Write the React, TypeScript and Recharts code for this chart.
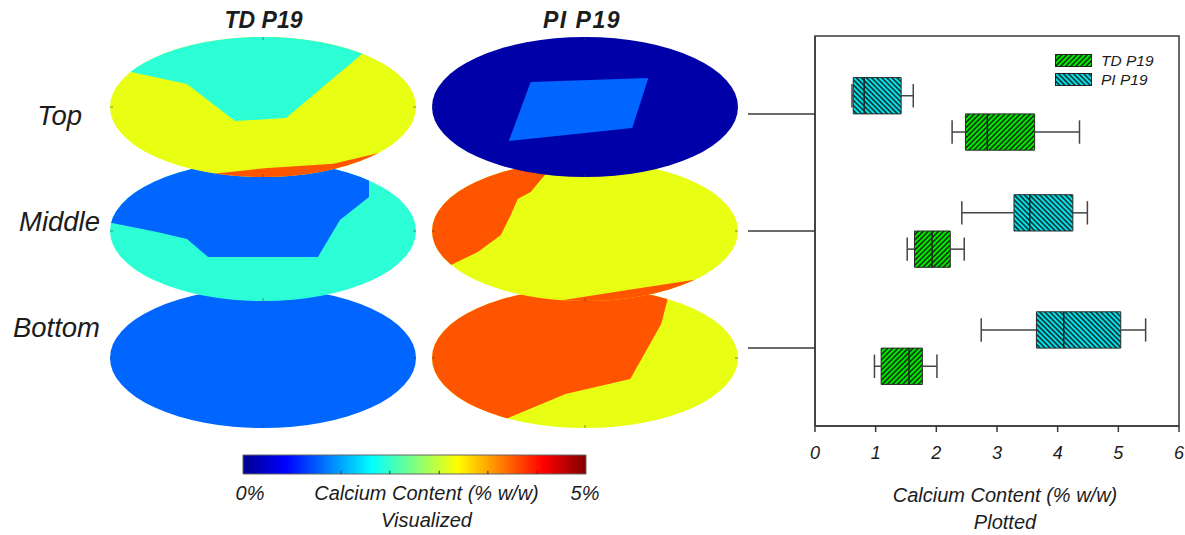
import React from "react";
import {
  ComposedChart,
  Legend,
  ReferenceArea,
  ReferenceLine,
  Scatter,
  XAxis,
  YAxis,
} from "recharts";

const FONT = '"Liberation Sans", Arial, Helvetica, sans-serif';
const INK = "#1c1c1c";
const FRAME = "#3a3a3a";

// colours of the calcium map (jet colormap levels)
const NAVY = "#0000A8";
const BLUE = "#0066FF";
const AQUA = "#2CFFD6";
const YELLOW = "#E8FF14";
const ORANGE = "#FF5500";

const zones = ["Top", "Middle", "Bottom"];
const groups = ["TD P19", "PI P19"];

// [min, Q1, median, Q3, max] calcium content, % w/w
const tdStats = [
  [2.26, 2.48, 2.84, 3.62, 4.36],
  [1.52, 1.64, 1.93, 2.23, 2.46],
  [0.98, 1.09, 1.55, 1.77, 2.01],
];
const piStats = [
  [0.61, 0.63, 0.81, 1.42, 1.62],
  [2.42, 3.28, 3.54, 4.25, 4.49],
  [2.74, 3.65, 4.1, 5.04, 5.45],
];

const axisTicks = [0, 1, 2, 3, 4, 5, 6];
const colorbarTicks = [0.71, 1.43, 2.14, 2.86, 3.57, 4.29];
const colorbarEnds = [0, 5];

// map regions, in ellipse-normalised coordinates (u right, v down)
type Pt = [number, number];
const tdTopAqua: Pt[] = [
  [-1.2, -0.5], [-0.863, -0.5], [-0.497, -0.329], [-0.183, 0.2],
  [0.15, 0.157], [0.647, -0.757], [0.9, -1.25], [-1.2, -1.25],
];
const tdTopOrange: Pt[] = [
  [-0.34, 1.3], [-0.31, 0.95], [0.03, 0.87], [0.46, 0.81],
  [0.77, 0.65], [1.3, 0.5], [1.3, 1.3],
];
const tdMiddleBlue: Pt[] = [
  [-1.2, -0.114], [-0.987, -0.114], [-0.693, 0.014], [-0.497, 0.114],
  [-0.359, 0.371], [0.359, 0.371], [0.503, -0.157], [0.693, -0.486],
  [0.693, -1.3], [-1.2, -1.3],
];
const piTopBlue: Pt[] = [
  [-0.355, -0.357], [0.414, -0.414], [0.309, 0.3], [-0.498, 0.486],
];
const piMiddleOrange: Pt[] = [
  [-0.2, -1.3], [-0.225, -0.9], [-0.355, -0.557], [-0.44, -0.457],
  [-0.485, -0.229], [-0.55, 0.057], [-0.7, 0.3], [-0.876, 0.486],
  [-1.3, 0.6], [-1.3, -1.3],
];
const piMiddleOrangeLow: Pt[] = [
  [-0.16, 1.3], [-0.14, 0.985], [0.277, 0.843], [0.707, 0.7],
  [1.3, 0.5], [1.3, 1.3],
];
const piBottomOrange: Pt[] = [
  [0.56, -1.3], [0.537, -0.814], [0.498, -0.486], [0.296, 0.3],
  [-0.127, 0.514], [-0.505, 0.86], [-0.56, 1.3], [-1.3, 1.3], [-1.3, -1.3],
];

type Region = { fill: string; pts: Pt[] };
type Panel = { id: string; col: number; row: number; base: string; regions: Region[] };

const panels: Panel[] = [
  { id: "tdTop", col: 0, row: 0, base: YELLOW, regions: [{ fill: AQUA, pts: tdTopAqua }, { fill: ORANGE, pts: tdTopOrange }] },
  { id: "tdMid", col: 0, row: 1, base: AQUA, regions: [{ fill: BLUE, pts: tdMiddleBlue }] },
  { id: "tdBot", col: 0, row: 2, base: BLUE, regions: [] },
  { id: "piTop", col: 1, row: 0, base: NAVY, regions: [{ fill: BLUE, pts: piTopBlue }] },
  { id: "piMid", col: 1, row: 1, base: YELLOW, regions: [{ fill: ORANGE, pts: piMiddleOrange }, { fill: ORANGE, pts: piMiddleOrangeLow }] },
  { id: "piBot", col: 1, row: 2, base: YELLOW, regions: [{ fill: ORANGE, pts: piBottomOrange }] },
];

// layout of the map panels
const COL_X = [263, 584.5];
const ROW_Y = [107, 231, 358];
const PANEL_W = 310;
const PANEL_H = 144;

const EllipseShape = (props: any) => {
  const { x, y, width, height, panel } = props;
  const cx = x + width / 2;
  const cy = y + height / 2;
  const rx = width / 2;
  const ry = height / 2;
  const sx = (u: number) => x + ((u + 1) / 2) * width;
  const sy = (v: number) => y + ((v + 1) / 2) * height;
  const clipId = `clip-${panel.id}`;
  return (
    <g>
      <defs>
        <clipPath id={clipId}>
          <ellipse cx={cx} cy={cy} rx={rx} ry={ry} />
        </clipPath>
      </defs>
      <ellipse cx={cx} cy={cy} rx={rx} ry={ry} fill={panel.base} />
      <g clipPath={`url(#${clipId})`}>
        {panel.regions.map((r: Region, i: number) => (
          <polygon
            key={i}
            points={r.pts.map(([u, v]) => `${sx(u)},${sy(v)}`).join(" ")}
            fill={r.fill}
          />
        ))}
        {/* small polar axis ticks */}
        <g stroke="#444" strokeOpacity={0.6} strokeWidth={1}>
          <line x1={x} y1={cy} x2={x + 3} y2={cy} />
          <line x1={x + width - 3} y1={cy} x2={x + width} y2={cy} />
          <line x1={cx} y1={y} x2={cx} y2={y + 3} />
          <line x1={cx} y1={y + height - 3} x2={cx} y2={y + height} />
        </g>
      </g>
    </g>
  );
};

const EllipseMap = ({ panel }: { panel: Panel }) => (
  <div
    style={{
      position: "absolute",
      left: COL_X[panel.col] - PANEL_W / 2,
      top: ROW_Y[panel.row] - PANEL_H / 2,
    }}
  >
    <ComposedChart width={PANEL_W} height={PANEL_H} margin={{ top: 2, right: 2, bottom: 2, left: 2 }}>
      <XAxis type="number" dataKey="u" domain={[-1, 1]} hide />
      <YAxis type="number" dataKey="v" domain={[-1, 1]} reversed hide />
      <Scatter data={[{ u: 0, v: 0 }]} shape={() => <g />} isAnimationActive={false} />
      <ReferenceArea
        x1={-1}
        x2={1}
        y1={-1}
        y2={1}
        ifOverflow="visible"
        shape={(p: any) => <EllipseShape {...p} panel={panel} />}
      />
    </ComposedChart>
  </div>
);

// box layout on the zone axis (Top = 1, Middle = 2, Bottom = 3)
const BOX_H = 0.31;
const CAP_H = 0.1;
const boxRows = zones.flatMap((z, i) => [
  { key: `pi-${z}`, y0: i + 1 - BOX_H, y1: i + 1, s: piStats[i], fill: "url(#hatchPI)" },
  { key: `td-${z}`, y0: i + 1, y1: i + 1 + BOX_H, s: tdStats[i], fill: "url(#hatchTD)" },
]);

const PlotCaption = (props: any) => {
  const { viewBox } = props;
  const cx = viewBox.x + viewBox.width / 2 + 8;
  return (
    <text textAnchor="middle" fontFamily={FONT} fontStyle="italic" fontSize={20} fill={INK}>
      <tspan x={cx} y={viewBox.y + 76}>Calcium Content (% w/w)</tspan>
      <tspan x={cx} y={viewBox.y + 103}>Plotted</tspan>
    </text>
  );
};

const ColorbarCaption = (props: any) => {
  const { viewBox } = props;
  const cx = viewBox.x + viewBox.width / 2 + 12;
  return (
    <text textAnchor="middle" fontFamily={FONT} fontStyle="italic" fontSize={20} fill={INK}>
      <tspan x={cx} y={viewBox.y + 26}>Calcium Content (% w/w)</tspan>
      <tspan x={cx} y={viewBox.y + 53}>Visualized</tspan>
    </text>
  );
};

const ColorbarTick = (props: any) => {
  const { x, y, payload } = props;
  const shift = payload.value === 0 ? 7 : -1;
  return (
    <text x={x + shift} y={y + 18} textAnchor="middle" fontFamily={FONT} fontStyle="italic" fontSize={20} fill={INK}>
      {`${payload.value}%`}
    </text>
  );
};

const legendContent = () => (
  <div style={{ fontFamily: FONT, fontStyle: "italic", fontSize: 15.5, color: INK }}>
    {groups.map((g, i) => (
      <div key={g} style={{ display: "flex", alignItems: "center", height: 19 }}>
        <svg width={37} height={13}>
          <rect
            x={0.5}
            y={0.5}
            width={36}
            height={12}
            fill={i === 0 ? "url(#hatchTD)" : "url(#hatchPI)"}
            stroke="#222"
          />
        </svg>
        <span style={{ marginLeft: 9 }}>{g}</span>
      </div>
    ))}
  </div>
);

const BoxPlot = () => (
  <div style={{ position: "absolute", left: 740, top: 20 }}>
    <ComposedChart width={445} height={515} margin={{ top: 16, right: 6, bottom: 79, left: 8 }}>
      <XAxis
        type="number"
        dataKey="x"
        domain={[0, 6]}
        ticks={axisTicks}
        interval={0}
        tickSize={6}
        tickMargin={14}
        height={30}
        stroke={FRAME}
        strokeWidth={1.5}
        tick={{ fill: INK, fontSize: 18, fontStyle: "italic", fontFamily: FONT }}
        label={PlotCaption}
      />
      <YAxis
        type="number"
        dataKey="y"
        domain={[0.335, 3.665]}
        reversed
        ticks={[1, 2, 3]}
        interval={0}
        width={67}
        tickSize={67}
        stroke={FRAME}
        strokeWidth={1.5}
        tick={() => <g />}
      />
      <ReferenceArea x1={0} x2={6} y1={0.335} y2={3.665} fill="none" stroke={FRAME} strokeWidth={1.5} />
      {boxRows.flatMap((b) => {
        const [lo, q1, med, q3, hi] = b.s;
        const mid = (b.y0 + b.y1) / 2;
        const line = { stroke: "#444", strokeWidth: 1.5 };
        return [
          <ReferenceLine key={`${b.key}-wl`} segment={[{ x: lo, y: mid }, { x: q1, y: mid }]} {...line} />,
          <ReferenceLine key={`${b.key}-wh`} segment={[{ x: q3, y: mid }, { x: hi, y: mid }]} {...line} />,
          <ReferenceLine key={`${b.key}-cl`} segment={[{ x: lo, y: mid - CAP_H }, { x: lo, y: mid + CAP_H }]} {...line} />,
          <ReferenceLine key={`${b.key}-ch`} segment={[{ x: hi, y: mid - CAP_H }, { x: hi, y: mid + CAP_H }]} {...line} />,
          <ReferenceArea
            key={`${b.key}-box`}
            x1={q1}
            x2={q3}
            y1={b.y0}
            y2={b.y1}
            fill={b.fill}
            fillOpacity={1}
            stroke="#2a2a2a"
            strokeWidth={1}
          />,
          <ReferenceLine key={`${b.key}-med`} segment={[{ x: med, y: b.y0 }, { x: med, y: b.y1 }]} stroke="#222" strokeWidth={1.5} />,
        ];
      })}
      <Scatter
        data={boxRows.map((b) => ({ x: b.s[2], y: (b.y0 + b.y1) / 2 }))}
        shape={() => <g />}
        isAnimationActive={false}
        legendType="none"
      />
      <Legend
        layout="horizontal"
        verticalAlign="middle"
        align="center"
        content={legendContent}
        wrapperStyle={{ left: 315, top: 31, width: 120, height: 40 }}
      />
    </ComposedChart>
  </div>
);

const Colorbar = () => (
  <div style={{ position: "absolute", left: 230, top: 440 }}>
    <ComposedChart width={380} height={95} margin={{ top: 15, right: 24, bottom: 31, left: 13 }}>
      <XAxis
        type="number"
        dataKey="x"
        domain={[0, 5]}
        ticks={colorbarEnds}
        interval={0}
        axisLine={false}
        tickLine={false}
        height={30}
        tick={ColorbarTick}
        label={ColorbarCaption}
      />
      <YAxis type="number" dataKey="y" domain={[0, 1]} hide />
      <Scatter data={[{ x: 2.5, y: 0.5 }]} shape={() => <g />} isAnimationActive={false} />
      <ReferenceArea x1={0} x2={5} y1={0} y2={1} fill="url(#jet)" fillOpacity={1} stroke="#666" strokeWidth={1} />
      {colorbarTicks.map((t) => (
        <ReferenceLine key={t} segment={[{ x: t, y: 0 }, { x: t, y: 0.17 }]} stroke="#333" strokeWidth={1} />
      ))}
    </ComposedChart>
  </div>
);

const App = () => (
  <div
    style={{
      position: "absolute",
      left: 0,
      top: 0,
      width: 1185,
      height: 535,
      background: "#fff",
      overflow: "hidden",
    }}
  >
    <svg width={0} height={0} style={{ position: "absolute" }}>
      <defs>
        <pattern id="hatchTD" patternUnits="userSpaceOnUse" width={3.6} height={3.6} patternTransform="rotate(45)">
          <rect width={3.6} height={3.6} fill="#00EE00" />
          <line x1={1.8} y1={0} x2={1.8} y2={3.6} stroke="#111" strokeWidth={1.4} />
        </pattern>
        <pattern id="hatchPI" patternUnits="userSpaceOnUse" width={3.6} height={3.6} patternTransform="rotate(-45)">
          <rect width={3.6} height={3.6} fill="#00E8EE" />
          <line x1={1.8} y1={0} x2={1.8} y2={3.6} stroke="#111" strokeWidth={1.4} />
        </pattern>
        <linearGradient id="jet" x1="0" y1="0" x2="1" y2="0">
          <stop offset="0" stopColor="#00008F" />
          <stop offset="0.125" stopColor="#0000FF" />
          <stop offset="0.375" stopColor="#00FFFF" />
          <stop offset="0.625" stopColor="#FFFF00" />
          <stop offset="0.875" stopColor="#FF0000" />
          <stop offset="1" stopColor="#800000" />
        </linearGradient>
      </defs>
    </svg>

    {/* lower rows first so the upper maps overlap them */}
    {[2, 1, 0].flatMap((row) =>
      panels.filter((p) => p.row === row).map((p) => <EllipseMap key={p.id} panel={p} />)
    )}

    <svg width={1185} height={535} style={{ position: "absolute", left: 0, top: 0, pointerEvents: "none" }}>
      <g fontFamily={FONT} fontStyle="italic" fontWeight="bold" fontSize={23} fill={INK} textAnchor="middle">
        <text x={263.5} y={28}>{groups[0]}</text>
        <text x={582} y={28} letterSpacing={1.5}>{groups[1]}</text>
      </g>
      <g fontFamily={FONT} fontStyle="italic" fontSize={27.5} fill={INK} textAnchor="end">
        <text x={82} y={125}>{zones[0]}</text>
        <text x={100} y={231}>{zones[1]}</text>
        <text x={100} y={337}>{zones[2]}</text>
      </g>
    </svg>

    <Colorbar />
    <BoxPlot />
  </div>
);

export default App;
